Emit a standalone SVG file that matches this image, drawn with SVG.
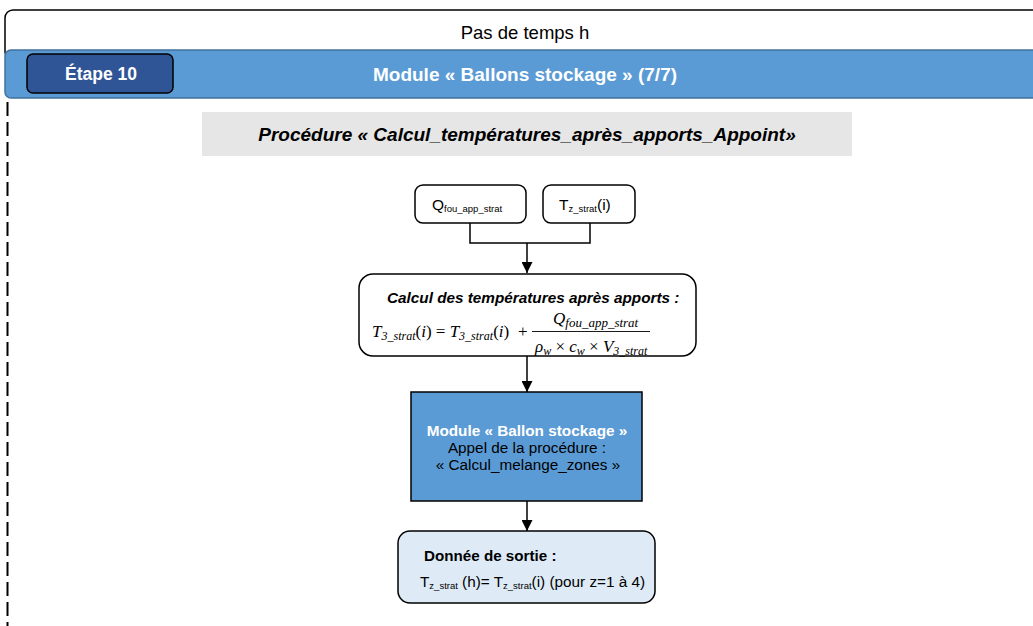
<svg xmlns="http://www.w3.org/2000/svg" width="1033" height="626" viewBox="0 0 1033 626">
<style>
.s{font-family:"Liberation Sans",Arial,sans-serif}
.m{font-family:"Liberation Serif","Times New Roman",serif;font-style:italic;font-size:17px}
.mu{font-family:"Liberation Serif","Times New Roman",serif;font-style:normal}
.wb{fill:#fff;font-weight:bold}
.ln{stroke:#000;stroke-width:1.5;fill:none}
</style>
<defs>
<marker id="ah" viewBox="0 0 10 10" refX="10" refY="5" markerWidth="11" markerHeight="11" markerUnits="userSpaceOnUse" orient="auto">
<path d="M0,0 L10,5 L0,10 z" fill="#000"/>
</marker>
</defs>
<rect width="1033" height="626" fill="#fff"/>
<g id="header">
<rect x="5" y="10" width="1045" height="50" rx="8" fill="#fff" stroke="#000" stroke-width="1.5"/>
<text x="525" y="39" class="s" font-size="18.5" text-anchor="middle">Pas de temps h</text>
<rect x="5" y="50" width="1045" height="48" rx="6" fill="#5B9BD5" stroke="#41719C" stroke-width="1.5"/>
<text x="525" y="81" class="s wb" font-size="19" text-anchor="middle">Module « Ballons stockage » (7/7)</text>
<line x1="7.5" y1="102" x2="7.5" y2="626" stroke="#000" stroke-width="2" stroke-dasharray="14,6"/>
</g>
<g id="etape">
<rect x="27" y="54" width="146" height="39" rx="6" fill="#2F5597" stroke="#000" stroke-width="1.5"/>
<text x="101" y="80" class="s wb" font-size="17.5" text-anchor="middle">Étape 10</text>
</g>
<g id="procedure">
<rect x="202" y="112" width="650" height="44" fill="#E6E6E6"/>
<text x="527" y="141" class="s" font-size="19" font-weight="bold" font-style="italic" text-anchor="middle">Procédure « Calcul_températures_après_apports_Appoint»</text>
</g>
<g id="connectors">
<path class="ln" stroke-width="1" d="M470,223 V243 H590 V223"/>
<line class="ln" x1="527" y1="243" x2="527" y2="273" marker-end="url(#ah)"/>
<line class="ln" x1="527" y1="356" x2="527" y2="392" marker-end="url(#ah)"/>
<line class="ln" x1="527" y1="501" x2="527" y2="531" marker-end="url(#ah)"/>
</g>
<g id="q-input">
<rect x="415" y="185" width="111" height="38" rx="8" fill="#fff" stroke="#000" stroke-width="1.5"/>
<text x="432" y="210" class="s" font-size="15.5">Q<tspan font-size="9.5" dy="2">fou_app_strat</tspan></text>
</g>
<g id="t-input">
<rect x="543" y="185" width="92" height="38" rx="8" fill="#fff" stroke="#000" stroke-width="1.5"/>
<text x="559" y="210" class="s" font-size="15.5">T<tspan font-size="9.5" dy="2">z_strat</tspan><tspan dy="-2">(i)</tspan></text>
</g>
<g id="calcul">
<rect x="359" y="274" width="337" height="82" rx="14" fill="#fff" stroke="#000" stroke-width="1.5"/>
<text x="387" y="303" class="s" font-size="15.3" font-weight="bold" font-style="italic">Calcul des températures après apports :</text>
<text x="372" y="337" class="m">T<tspan font-size="12" dy="3">3_strat</tspan><tspan class="mu" dy="-3">(</tspan>i<tspan class="mu">) = </tspan>T<tspan font-size="12" dy="3">3_strat</tspan><tspan class="mu" dy="-3">(</tspan>i<tspan class="mu">)</tspan><tspan class="mu" x="518">+</tspan></text>
<line x1="532" y1="331.5" x2="650" y2="331.5" stroke="#000" stroke-width="0.9"/>
<text x="553" y="324" class="m">Q<tspan font-size="13" dy="3">fou_app_strat</tspan></text>
<text x="535" y="352" class="m">ρ<tspan font-size="12" dy="3">w</tspan><tspan class="mu" dy="-3"> × </tspan>c<tspan font-size="12" dy="3">w</tspan><tspan class="mu" dy="-3"> × </tspan>V<tspan font-size="12" dy="3">3_strat</tspan></text>
</g>
<g id="module">
<rect x="411" y="392" width="231" height="109" fill="#5B9BD5" stroke="#000" stroke-width="1.5"/>
<text x="527" y="436" class="s wb" font-size="15.3" text-anchor="middle">Module « Ballon stockage »</text>
<text x="527" y="453" class="s" font-size="15.3" text-anchor="middle">Appel de la procédure :</text>
<text x="528" y="470" class="s" font-size="15.3" text-anchor="middle">« Calcul_melange_zones »</text>
</g>
<g id="sortie">
<rect x="398" y="531" width="257" height="72" rx="12" fill="#DEEBF7" stroke="#000" stroke-width="1.5"/>
<text x="424" y="561" class="s" font-size="15.2" font-weight="bold">Donnée de sortie :</text>
<text x="420" y="587" class="s" font-size="15.3">T<tspan font-size="9.5" dy="2">z_strat</tspan><tspan dy="-2"> (h)= T</tspan><tspan font-size="9.5" dy="2">z_strat</tspan><tspan dy="-2">(i) (pour z=1 à 4)</tspan></text>
</g>
</svg>
